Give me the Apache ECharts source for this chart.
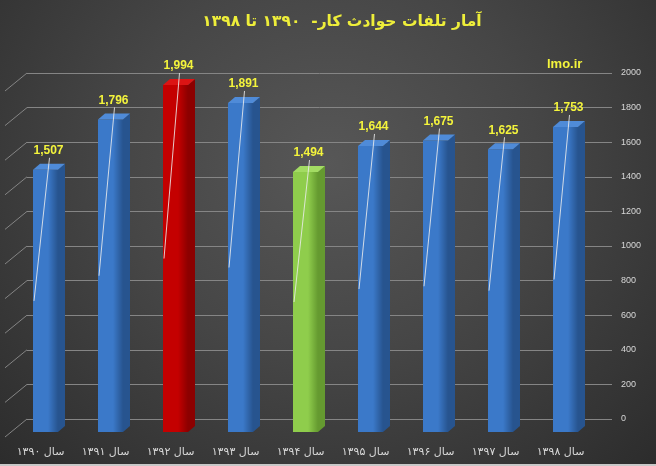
<!DOCTYPE html>
<html>
<head>
<meta charset="utf-8">
<script src="https://cdn.jsdelivr.net/npm/echarts@6/dist/echarts.min.js"></script>
<style>
html,body{margin:0;padding:0;background:#333;}
#chart{width:656px;height:466px;background:radial-gradient(ellipse at 50% 35%, #575757 0%, #464646 45%, #2c2c2c 100%);}
</style>
</head>
<body>
<div id="chart" dir="rtl"></div>
<script>
const titleText = 'آمار تلفات حوادث کار-  ۱۳۹۰ تا ۱۳۹۸';
const sourceText = 'lmo.ir';
const categories = ['سال ۱۳۹۰','سال ۱۳۹۱','سال ۱۳۹۲','سال ۱۳۹۳','سال ۱۳۹۴','سال ۱۳۹۵','سال ۱۳۹۶','سال ۱۳۹۷','سال ۱۳۹۸'];
const values = [1507, 1796, 1994, 1891, 1494, 1644, 1675, 1625, 1753];
const yTicks = [0, 200, 400, 600, 800, 1000, 1200, 1400, 1600, 1800, 2000];

const maxIdx = values.indexOf(Math.max(...values));
const minIdx = values.indexOf(Math.min(...values));
const palette = {
  blue:  {front: '#3b79c9', side: '#27548f', top: '#4f8bd8'},
  red:   {front: '#c40000', side: '#8c0000', top: '#dc1414'},
  green: {front: '#8fcd4c', side: '#659a30', top: '#a3dc63'}
};
const fmt = v => v.toLocaleString('en-US');

const chart = echarts.init(document.getElementById('chart'), null, {renderer: 'canvas'});
chart.setOption({
  backgroundColor: 'transparent',
  animation: false,
  title: {
    text: titleText, left: 337, top: 9, textAlign: 'center',
    textStyle: {color: '#eeee3a', fontSize: 15.5, fontWeight: 'bold', fontFamily: 'DejaVu Sans'}
  },
  graphic: [
    {type: 'text', left: 547, top: 58, style: {text: sourceText, fill: '#f4f43c', font: 'bold 13px "Liberation Sans", Arial'}},
    {type: 'rect', left: 0, bottom: 0, shape: {width: 656, height: 2}, style: {fill: '#c8c8c8'}}
  ],
  grid: [
    {left: 13, right: 58, top: 84, bottom: 34},
    {left: 27, right: 44, top: 73, bottom: 47}
  ],
  xAxis: [
    {type: 'category', gridIndex: 0, data: categories,
     axisLine: {show: false}, axisTick: {show: false}, splitLine: {show: false},
     axisLabel: {color: '#d8d8d8', fontSize: 11, fontFamily: 'DejaVu Sans', margin: 15, padding: [0, 10, 0, 0]}},
    {type: 'value', gridIndex: 1, min: 0, max: 1, show: false}
  ],
  yAxis: [
    {type: 'value', gridIndex: 0, min: 0, max: 2000, show: false},
    {type: 'value', gridIndex: 1, min: 0, max: 2000, interval: 200, position: 'right',
     axisLine: {show: false}, axisTick: {show: false},
     splitLine: {show: true, lineStyle: {color: '#858585', width: 1}},
     axisLabel: {color: '#d8d8d8', fontSize: 9, margin: 9, fontFamily: '"Liberation Sans", Arial',
                 formatter: v => String(v)}}
  ],
  series: [
    {
      type: 'custom', xAxisIndex: 1, yAxisIndex: 1, z: 1, silent: true,
      data: yTicks.map(v => [0, v]),
      renderItem: function (params, api) {
        const p = api.coord([api.value(0), api.value(1)]);
        return {type: 'line', shape: {x1: p[0], y1: p[1], x2: p[0] - 22, y2: p[1] + 18},
                style: {stroke: '#858585', lineWidth: 1}};
      }
    },
    {
      type: 'custom', xAxisIndex: 0, yAxisIndex: 0, z: 5, silent: true,
      data: values.map((v, i) => [i, v]),
      renderItem: function (params, api) {
        const i = api.value(0), v = api.value(1);
        const base = api.coord([i, 0]);
        const top = api.coord([i, v]);
        const mid = api.coord([i, v / 2]);
        const c = i === maxIdx ? palette.red : (i === minIdx ? palette.green : palette.blue);
        const bw = 25, dx = 7, dy = 6;
        const x0 = base[0] - bw / 2, x1 = base[0] + bw / 2;
        const yb = base[1], yt = top[1];
        const lx = base[0] + 3, ly = yt - dy - 13;
        return {
          type: 'group',
          children: [
            {type: 'polygon', shape: {points: [[x1, yb], [x1 + dx, yb - dy], [x1 + dx, yt - dy], [x1, yt]]},
             style: {fill: c.side}},
            {type: 'rect', shape: {x: x0, y: yt, width: bw, height: yb - yt},
             style: {fill: {type: 'linear', x: 0, y: 0, x2: 1, y2: 0,
                colorStops: [{offset: 0, color: c.front}, {offset: 0.6, color: c.front}, {offset: 1, color: c.side}]}}},
            {type: 'polygon', shape: {points: [[x0, yt], [x0 + dx, yt - dy], [x1 + dx, yt - dy], [x1, yt]]},
             style: {fill: c.top}},
            {type: 'line', shape: {x1: lx + 1, y1: ly + 7, x2: x0 + 1, y2: mid[1]},
             style: {stroke: 'rgba(235,235,235,0.85)', lineWidth: 1}},
            {type: 'text', x: lx, y: ly,
             style: {text: fmt(v), fill: '#f4f43c', font: 'bold 12px "Liberation Sans", Arial',
                     align: 'center', verticalAlign: 'middle'}}
          ]
        };
      }
    }
  ]
});
</script>
</body>
</html>
